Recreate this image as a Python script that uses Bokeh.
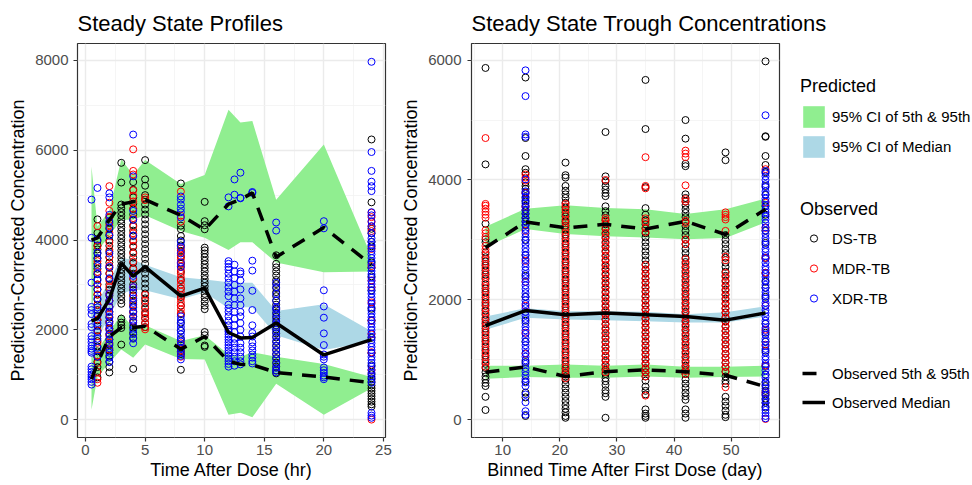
from bokeh.plotting import figure
from bokeh.layouts import row
from bokeh.models import Range1d, FixedTicker, Legend, LegendItem
from bokeh.embed import file_html
from bokeh.resources import INLINE

FONT = "Liberation Sans"
GREEN = "#90EE90"
LBLUE = "#ADD8E6"
C_DS, C_MDR, C_XDR = "#000000", "#FF0000", "#0000FF"
NAN = float("nan")

# ---------------- Left panel: Steady State Profiles ----------------
left_t = [0.5, 1, 2, 3, 4, 5, 8, 10, 12, 13, 14, 16, 20, 24]
left_p95_hi = [5640, 4300, 4650, 5800, 5450, 5780, 5250, 5450, 6900, 6620, 6650, 4900, 6130, 3630]
left_p95_lo = [2300, 3750, 4100, 4450, 4450, 4550, 4200, 4050, 3780, 3950, 3950, 3500, 3280, 3300]
left_p05_hi = [2400, 1550, 1950, 2350, 2050, 2100, 1750, 1880, 1450, 1400, 1500, 1400, 1240, 950]
left_p05_lo = [220, 950, 1270, 1560, 1380, 1670, 1350, 1340, 110, 150, 50, 800, 110, 700]
left_med_hi = [2500, 2600, 3100, 3600, 3560, 3450, 3170, 3120, 3060, 3050, 3050, 2420, 2570, 1970]
left_med_lo = [1300, 1800, 2300, 2800, 2900, 2880, 2680, 2830, 2480, 2500, 2500, 1880, 1550, 1740]
left_obs_med = [2200, 2250, 2680, 3480, 3200, 3400, 2750, 2930, 1940, 1820, 1830, 2150, 1440, 1780]
left_obs_p95 = [4000, 4050, 4450, 4800, 4850, 4900, 4550, 4230, 4800, 4900, 5050, 3620, 4280, 3450]
left_obs_p05 = [900, 1250, 1850, 2050, 2050, 2080, 1570, 1850, 1300, 1230, 1220, 1050, 950, 820]

# observed points, DS-TB
l_ds_1 = [4460, 4160, 3980, 3880, 3790, 3700, 3590, 3470, 3360, 3240, 3130, 3010, 2900, 2780, 2670,
          2550, 2440, 2320, 2210, 2090, 1980, 1860, 1750, 1630, 1520, 1400, 1290, 1170, 1060, 940]
l_ds_2 = [4500, 4380, 4250, 4110, 3990, 3870, 3740, 3620, 3500, 3380, 3250, 3130, 3010, 2890, 2760,
          2640, 2520, 2400, 2270, 2150, 2030, 1910, 1780, 1660, 1540, 1420, 1290, 1170, 1050]
l_ds_3 = [5720, 5280, 4790, 4710, 4620, 4540, 4450, 4370, 4280, 4200, 4110, 4030, 3940, 3860, 3770,
          3690, 3600, 3520, 3430, 3350, 3260, 3180, 3090, 3010, 2920, 2840, 2750, 2660, 2580, 2250,
          2160, 2100, 2040, 1670]
l_ds_4 = [5290, 5120, 4950, 4810, 4690, 4570, 4450, 4330, 4210, 4090, 3970, 3850, 3730, 3610, 3490,
          3370, 3250, 3130, 3010, 2890, 2770, 2650, 2530, 2410, 2290, 2170, 2050, 1930, 1820, 1130]
l_ds_5 = [5780, 5350, 5210, 5000, 4900, 4790, 4680, 4570, 4460, 4350, 4240, 4130, 4020, 3910, 3800,
          3690, 3580, 3470, 3360, 3250, 3140, 3030, 2920, 2810, 2700, 2590, 2480, 2370, 2260, 2150, 2060]
l_ds_8 = [5260, 4320, 4240, 4090, 3990, 3880, 3760, 3620, 3470, 3290, 3110, 2920, 2730, 2540, 2350,
          2160, 1980, 1790, 1600, 1520, 1460, 1110]
l_ds_10 = [4850, 4420, 4330, 4240, 3830, 3770, 3700, 3620, 3540, 3460, 3380, 3300, 3210, 3130, 3050,
           2970, 2890, 2800, 2720, 2630, 2540, 2460, 1950, 1880, 1650, 1620]
l_ds_16 = [3660, 3470, 3390, 3300, 3210, 3110, 3020, 2930, 2840, 2750, 2650, 2560, 2470, 2380, 2290,
           2190, 2100, 2010, 1920, 1830, 1730, 1640, 1550, 1460, 1370, 1270, 1180, 1090, 1030]
l_ds_24 = [6240, 4840, 4250, 4150, 3960, 3860, 3500, 3380, 3190, 2880, 2470, 2210, 1820, 1480, 1210,
           1010, 920, 840, 760, 700, 640, 580, 520, 460, 400, 340, 290]

# observed points, MDR-TB
l_mdr_1 = [4310, 3860, 3530, 3290, 3010, 2790, 2560, 2230, 1990, 1710, 1430, 1260, 1060, 900, 820]
l_mdr_2 = [5200, 4830, 4650, 4510, 4330, 4160, 3950, 3780, 3610, 3430, 3260, 3090, 2950, 2800, 2650,
           2500, 2340, 2180, 2020, 1860, 1710, 1560]
l_mdr_4 = [6020, 5540, 5460, 5110, 4990, 4860, 4700, 4490, 4300, 4150, 4000, 3870, 3700, 3520, 3350,
           3150, 2950, 2750, 2560, 2380, 2200]
l_mdr_5 = [4950, 4890, 2780, 2650, 2510, 2400, 2330, 2250, 2150, 2060, 2010]
l_mdr_8 = [5080, 4540, 4410, 3810, 3730, 3650, 3570, 3490, 3410, 3330, 3250, 3170, 3090, 3010, 2930,
           2850, 2770, 2690, 2610, 2530, 2450, 2370, 1700, 1510, 1400]
l_mdr_24 = [4610, 4510, 4400, 4300, 4200, 3800, 3420, 3100, 2950, 2610, 2200, 1900, 1500, 1100, 0]

# observed points, XDR-TB
l_xdr_05 = [4900, 4050, 3050, 2510, 2440, 2350, 2130, 2060, 1860, 1790, 1720, 1640, 1580, 1530, 1490,
            1180, 1120, 1060, 1000, 950, 900, 840, 780]
l_xdr_1 = [5160, 4010, 3720, 3600, 3420, 3250, 3100, 2900, 2700, 2500, 2310, 2150, 1950, 1800, 1600, 1400]
l_xdr_2 = [5040, 4950, 4560, 4420, 4280, 4100, 3700, 3400, 3150, 2800, 2650, 2510, 2400, 2290, 2190,
           2090, 1990, 1890, 1790, 1690, 1590, 1490, 1380, 1280]
l_xdr_4 = [6350, 5420, 4650, 4450, 4100, 3200, 2950, 2830, 2700, 2600, 2500, 2400, 2300, 2200, 2100,
           2000, 1900, 1800, 1700]
l_xdr_8 = [4970, 4900, 4790, 4700, 4620, 4500, 3960, 3850, 3700, 3500, 3400, 2300, 2220, 2140, 2060,
           1980, 1900, 1820, 1740, 1660, 1580, 1500, 1420, 1340]
l_xdr_12 = [4950, 4750, 3530, 3470, 3400, 3340, 3250, 3150, 3050, 2950, 2850, 2750, 2560, 2480, 2400,
            2300, 2200, 2100, 2000, 1960, 1900, 1840, 1780, 1720, 1660, 1600, 1540, 1480, 1420, 1360,
            1300, 1240, 1180]
l_xdr_125 = [5350, 5010, 3450, 3300, 3150, 3000, 2850, 2700, 2550, 2400, 2250, 2100, 1950, 1800, 1700,
             1600, 1500, 1400, 1300, 1200]
l_xdr_13 = [5500, 4940, 4930, 3300, 3250, 3100, 2900, 2700, 2550, 2400, 2300, 2150, 2000, 1850, 1700,
            1600, 1500, 1400, 1300, 1230]
l_xdr_14 = [5070, 5050, 3540, 3320, 2870, 2440, 2100, 1930, 1850, 1720, 1630, 1540, 1450, 1380, 1300, 1250]
l_xdr_16 = [4390, 4210, 3050, 2950, 2800, 2650, 2500, 2450, 2350, 2250, 2150, 2050, 1950, 1850, 1750,
            1650, 1550, 1450, 1350, 1250, 1150, 1100, 1050]
l_xdr_20 = [4420, 4260, 2880, 2520, 2270, 1920, 1660, 1450, 1400, 1340, 1160, 1100, 1040, 980, 940, 900]
l_xdr_24 = [7970, 5960, 5540, 5300, 5200, 5090, 4620, 4550, 4420, 4310, 4150, 4040, 3960, 3890, 3820,
            3750, 3680, 3600, 3530, 3460, 3380, 3310, 3240, 3160, 3090, 3020, 2940, 2870, 2800, 2720,
            2650, 2580, 2500, 2430, 2360, 2280, 2210, 2140, 2060, 1990, 1920, 1840, 1770, 1700, 1620,
            1550, 1480, 1400, 1330, 1260, 1180, 1110, 1040, 960, 890, 820, 150, 90, 40]

# ---------------- Right panel: Steady State Trough Concentrations ----------------
right_t = [7, 14, 21, 28, 35, 42, 49, 56]
right_p95_hi = [3220, 3520, 3580, 3530, 3510, 3430, 3510, 3690]
right_p95_lo = [2880, 3180, 3100, 3060, 3040, 3010, 3030, 3290]
right_p05_hi = [900, 900, 920, 900, 920, 880, 880, 900]
right_p05_lo = [680, 710, 700, 700, 720, 700, 710, 720]
right_med_hi = [1720, 1860, 1810, 1810, 1800, 1760, 1790, 1890]
right_med_lo = [1500, 1700, 1670, 1660, 1640, 1620, 1620, 1720]
right_obs_med = [1570, 1820, 1750, 1780, 1750, 1720, 1660, 1780]
right_obs_p95 = [2870, 3300, 3200, 3260, 3180, 3310, 3090, 3510]
right_obs_p05 = [790, 880, 720, 800, 830, 800, 740, 550]

r_ds_7 = [5870, 4260, 3270, 3010, 2960, 2790, 2710, 2640, 2570, 2490, 2420, 2350, 2260, 2190, 2120,
          2040, 1960, 1900, 1820, 1750, 1670, 1600, 1520, 1450, 1370, 1300, 1220, 1150, 1070, 1000,
          930, 860, 790, 720, 670, 610, 560, 380, 160]
r_ds_14 = [5710, 4700, 4400, 4180, 4120, 3960, 3900, 3850, 3790, 3700, 3640, 3570, 3500, 3440, 3370,
           3310, 3250, 3000, 2750, 2400, 2050, 1650, 1300, 960, 640, 450, 370, 60]
r_ds_21 = [4290, 4080, 4040, 3900, 3820, 3760, 3700, 3620, 3540, 3460, 3390, 3310, 3240, 3170, 3090,
           3020, 2940, 2870, 2790, 2720, 2640, 2570, 2490, 2420, 2340, 2270, 2190, 2120, 2040, 1970,
           1890, 1820, 1740, 1670, 1590, 1520, 1440, 1370, 1290, 1220, 1140, 1070, 990, 920, 850,
           780, 720, 660, 590, 520, 450, 380, 310, 240, 180, 120, 60, 30]
r_ds_28 = [4800, 4060, 3980, 3900, 3840, 3780, 3730, 3560, 3480, 3410, 3330, 3260, 3180, 3100, 3030,
           2950, 2880, 2800, 2730, 2650, 2570, 2500, 2420, 2350, 2270, 2200, 2120, 2040, 1970, 1890,
           1820, 1740, 1670, 1590, 1510, 1440, 1360, 1290, 1210, 1140, 1060, 980, 910, 830, 760,
           690, 640, 580, 490, 440, 380, 30]
r_ds_35 = [5670, 4850, 3880, 3530, 3420, 3330, 3260, 3190, 3110, 3040, 2960, 2890, 2810, 2740, 2660,
           2590, 2510, 2440, 2360, 2290, 2210, 2140, 2060, 1990, 1910, 1840, 1760, 1690, 1610, 1540,
           1460, 1390, 1310, 1240, 1160, 1090, 1010, 940, 860, 790, 720, 650, 550, 480, 420, 170,
           100, 60, 30]
r_ds_42 = [5000, 4690, 4270, 4230, 3760, 3700, 3640, 3580, 3510, 3450, 3380, 3300, 3230, 3150, 3080,
           3000, 2930, 2850, 2780, 2700, 2630, 2550, 2480, 2400, 2330, 2250, 2180, 2100, 2030, 1950,
           1880, 1800, 1730, 1650, 1580, 1500, 1430, 1350, 1280, 1200, 1130, 1050, 980, 900, 830,
           760, 670, 600, 530, 450, 390, 330, 170, 100, 30]
r_ds_49 = [4460, 4330, 3080, 3000, 2930, 2850, 2780, 2700, 2620, 2550, 2470, 2400, 2320, 2240, 2170,
           2090, 2020, 1940, 1860, 1790, 1710, 1640, 1560, 1480, 1410, 1330, 1260, 1180, 1100, 1030,
           950, 880, 800, 720, 650, 600, 380, 300, 230, 150, 80, 40]
r_ds_56 = [5980, 4730, 4720, 4400, 4250, 4130, 3900, 3750, 3560, 3420, 3150, 2950, 2700, 2450, 2300,
           2200, 2050, 1600, 1450, 1300, 1150, 900, 750, 620, 560, 480, 420, 350, 280, 200]

r_mdr_7 = [4700, 3600, 3570, 3520, 3470, 3420, 3370, 3160, 3110, 3050, 2900, 2840, 2760, 2680, 2600,
           2530, 2450, 2380, 2300, 2230, 2150, 2080, 2000, 1930, 1850, 1780, 1700, 1630, 1560, 1480,
           1410, 1330, 1260, 1180, 1110, 1040, 960, 880]
r_mdr_14 = [4090, 4040, 3990, 3780, 3550, 3150, 2650, 2300, 1900, 1450, 1100]
r_mdr_21 = [3600, 3560, 3500, 3420, 3340, 3280, 3210, 3130, 3060, 2980, 2910, 2830, 2760, 2680, 2610,
            2530, 2460, 2380, 2310, 2230, 2160, 2080, 2010, 1930, 1860, 1780, 1710, 1630, 1560, 1480,
            1410, 1330, 1260, 1180, 1110, 1030, 960, 880, 810, 750, 690]
r_mdr_28 = [4000, 3360, 3320, 3280, 3200, 3120, 3050, 2970, 2900, 2820, 2740, 2670, 2590, 2520, 2440,
            2360, 2290, 2210, 2140, 2060, 1980, 1910, 1830, 1760, 1680, 1600, 1530, 1450, 1380, 1300,
            1220, 1150, 1070, 1000, 920, 850, 790]
r_mdr_35 = [4380, 3900, 3860, 3360, 3300, 3200, 3130, 2580, 2500, 2430, 2350, 2280, 2200, 2130, 2050,
            1980, 1900, 1830, 1750, 1680, 1600, 1530, 1450, 1380, 1300, 1230, 1150, 1080, 1000, 930,
            850, 780, 720, 400]
r_mdr_42 = [4490, 4440, 4380, 3910, 3680, 3640, 3320, 3280, 3010, 2930, 2680, 2600, 2530, 2450, 2380,
            2300, 2230, 2150, 2080, 2000, 1930, 1850, 1780, 1700, 1630, 1550, 1480, 1400, 1330, 1250,
            1180, 1100, 1030, 950, 880, 810, 760]
r_mdr_49 = [3460, 3420, 3380, 3340, 3150, 2720, 2660, 2450, 2380, 2300, 2230, 2150, 2080, 2000, 1930,
            1850, 1780, 1700, 1630, 1550, 1480, 1400, 1330, 1250, 1180, 1100, 1030, 950, 880, 800, 540]
r_mdr_56 = [4180, 3620, 3200, 2700, 2450, 1900, 1500, 1250, 900, 450, 10]

r_xdr_14 = [5830, 5400, 4760, 4720, 4010, 3810, 3770, 3720, 3660, 3610, 3550, 3490, 3430, 3360, 3300,
            3240, 3180, 3110, 3050, 2990, 2930, 2860, 2800, 2740, 2680, 2610, 2550, 2490, 2430, 2360,
            2300, 2240, 2180, 2110, 2050, 1990, 1930, 1860, 1800, 1740, 1680, 1610, 1550, 1490, 1430,
            1360, 1300, 1240, 1180, 1110, 1050, 990, 930, 860, 800, 740, 680, 620, 560, 420, 290, 140, 80]
r_xdr_56 = [5080, 4150, 4110, 4060, 4000, 3930, 3880, 3810, 3760, 3690, 3640, 3580, 3510, 3460, 3390,
            3340, 3280, 3210, 3160, 3100, 3030, 2980, 2920, 2850, 2800, 2730, 2680, 2620, 2550, 2500,
            2430, 2380, 2320, 2250, 2200, 2130, 2080, 2020, 1950, 1900, 1830, 1780, 1720, 1650, 1600,
            1530, 1480, 1420, 1350, 1300, 1230, 1180, 1120, 1050, 1000, 930, 880, 820, 750, 700, 630,
            580, 520, 450, 400, 330, 280, 220, 160, 110, 60, 20]

left_ds = [(1, l_ds_1), (2, l_ds_2), (3, l_ds_3), (4, l_ds_4), (5, l_ds_5), (8, l_ds_8),
           (10, l_ds_10), (16, l_ds_16), (24, l_ds_24)]
left_mdr = [(1, l_mdr_1), (2, l_mdr_2), (4, l_mdr_4), (5, l_mdr_5), (8, l_mdr_8), (24, l_mdr_24)]
left_xdr = [(0.5, l_xdr_05), (1, l_xdr_1), (2, l_xdr_2), (4, l_xdr_4), (8, l_xdr_8), (12, l_xdr_12),
            (12.5, l_xdr_125), (13, l_xdr_13), (14, l_xdr_14), (16, l_xdr_16), (20, l_xdr_20),
            (24, l_xdr_24)]
right_ds = [(7, r_ds_7), (14, r_ds_14), (21, r_ds_21), (28, r_ds_28), (35, r_ds_35), (42, r_ds_42),
            (49, r_ds_49), (56, r_ds_56)]
right_mdr = [(7, r_mdr_7), (14, r_mdr_14), (21, r_mdr_21), (28, r_mdr_28), (35, r_mdr_35),
             (42, r_mdr_42), (49, r_mdr_49), (56, r_mdr_56)]
right_xdr = [(14, r_xdr_14), (56, r_xdr_56)]


def flatten(pairs):
    xs, ys = [], []
    for t, vals in pairs:
        xs += [t] * len(vals)
        ys += list(vals)
    return xs, ys


def style(p, xticks, xminor, yticks, yminor, xlabel, ylab_standoff):
    p.background_fill_color = "white"
    p.border_fill_color = "white"
    p.outline_line_color = "#333333"
    p.outline_line_width = 1.2
    p.title.text_font = FONT
    p.title.text_font_size = "22px"
    p.title.text_font_style = "normal"
    p.title.text_color = "black"
    p.title.align = "left"
    p.title.offset = 0
    p.title.standoff = 16
    p.xaxis.ticker = FixedTicker(ticks=xticks, minor_ticks=xminor)
    p.yaxis.ticker = FixedTicker(ticks=yticks, minor_ticks=yminor)
    p.xaxis.axis_label = xlabel
    p.yaxis.axis_label = "Prediction-Corrected Concentration"
    for ax in list(p.xaxis) + list(p.yaxis):
        ax.axis_line_color = None
        ax.major_tick_line_color = "#333333"
        ax.major_tick_line_width = 1.2
        ax.major_tick_in = 0
        ax.major_tick_out = 4
        ax.minor_tick_line_color = None
        ax.major_label_text_font = FONT
        ax.major_label_text_font_size = "15px"
        ax.major_label_text_color = "#4D4D4D"
        ax.axis_label_text_font = FONT
        ax.axis_label_text_font_size = "18px"
        ax.axis_label_text_font_style = "normal"
        ax.axis_label_text_color = "black"
    for ax in p.xaxis:
        ax.major_label_standoff = 3
        ax.axis_label_standoff = 2
    for ax in p.yaxis:
        ax.major_label_standoff = ylab_standoff
        ax.axis_label_standoff = 4
    for g in list(p.xgrid) + list(p.ygrid):
        g.grid_line_color = "#EBEBEB"
        g.grid_line_width = 1.4
        g.minor_grid_line_color = "#F2F2F2"
        g.minor_grid_line_width = 0.8


def draw_panel(p, t, p95_lo, p95_hi, p05_lo, p05_hi, med_lo, med_hi, ds, mdr, xdr, obs_med, obs_p95, obs_p05):
    p.varea(x=t, y1=p95_lo, y2=p95_hi, fill_color=GREEN)
    p.varea(x=t, y1=p05_lo, y2=p05_hi, fill_color=GREEN)
    p.varea(x=t, y1=med_lo, y2=med_hi, fill_color=LBLUE)
    for pairs, col in ((ds, C_DS), (mdr, C_MDR), (xdr, C_XDR)):
        xs, ys = flatten(pairs)
        p.scatter(xs, ys, marker="circle", size=7, fill_color=None, line_color=col, line_width=1)
    p.line(t, obs_p95, line_color="black", line_width=3.5, line_dash="14 10")
    p.line(t, obs_p05, line_color="black", line_width=3.5, line_dash="14 10")
    p.line(t, obs_med, line_color="black", line_width=3.5)


H = 485
p1 = figure(width=398, height=H, output_backend="svg", toolbar_location=None,
            title="Steady State Profiles",
            x_range=Range1d(-0.675, 25.175), y_range=Range1d(-399, 8378),
            min_border_left=77, min_border_right=13, min_border_top=43, min_border_bottom=48)
style(p1, [0, 5, 10, 15, 20, 25], [2.5, 7.5, 12.5, 17.5, 22.5],
      [0, 2000, 4000, 6000, 8000], [1000, 3000, 5000, 7000], "Time After Dose (hr)", 5)
draw_panel(p1, left_t, left_p95_lo, left_p95_hi, left_p05_lo, left_p05_hi, left_med_lo, left_med_hi,
           left_ds, left_mdr, left_xdr, left_obs_med, left_obs_p95, left_obs_p05)

# right panel canvas reaches the page edge so that its long title is not cut;
# the legend canvas (transparent) is laid over its right border area
p2 = figure(width=574, height=H, output_backend="svg", toolbar_location=None,
            title="Steady State Trough Concentrations",
            x_range=Range1d(4.55, 58.45), y_range=Range1d(-299, 6278),
            min_border_left=73, min_border_right=193, min_border_top=43, min_border_bottom=48)
style(p2, [10, 20, 30, 40, 50], [5, 15, 25, 35, 45, 55],
      [0, 2000, 4000, 6000], [1000, 3000, 5000], "Binned Time After First Dose (day)", 6)
draw_panel(p2, right_t, right_p95_lo, right_p95_hi, right_p05_lo, right_p05_hi, right_med_lo, right_med_hi,
           right_ds, right_mdr, right_xdr, right_obs_med, right_obs_p95, right_obs_p05)

# ---------------- Legend panel ----------------
pl = figure(width=180, height=H, output_backend="svg", toolbar_location=None,
            x_range=Range1d(0, 1), y_range=Range1d(0, 1),
            x_axis_location=None, y_axis_location=None,
            min_border_left=0, min_border_right=0, min_border_top=43, min_border_bottom=48,
            margin=(0, 0, 0, -180))
pl.outline_line_color = None
pl.background_fill_alpha = 0
pl.border_fill_alpha = 0
for g in list(pl.xgrid) + list(pl.ygrid):
    g.visible = False

r_green = pl.varea(x=[NAN], y1=[NAN], y2=[NAN], fill_color=GREEN)
r_blue = pl.varea(x=[NAN], y1=[NAN], y2=[NAN], fill_color=LBLUE)
r_ds = pl.scatter(x=[NAN], y=[NAN], marker="circle", size=7, fill_color=None, line_color=C_DS, line_width=1)
r_mdr = pl.scatter(x=[NAN], y=[NAN], marker="circle", size=7, fill_color=None, line_color=C_MDR, line_width=1)
r_xdr = pl.scatter(x=[NAN], y=[NAN], marker="circle", size=7, fill_color=None, line_color=C_XDR, line_width=1)
r_dash = pl.line(x=[NAN], y=[NAN], line_color="black", line_width=3.5, line_dash="14 10")
r_solid = pl.line(x=[NAN], y=[NAN], line_color="black", line_width=3.5)


def make_legend(items, title, loc, gw, gh, spacing, standoff, title_standoff):
    leg = Legend(items=items, location=loc, orientation="vertical",
                 glyph_width=gw, glyph_height=gh, label_height=gh, label_width=20,
                 spacing=spacing, padding=0, margin=0, label_standoff=standoff,
                 border_line_color=None, background_fill_alpha=0,
                 label_text_font=FONT, label_text_font_size="15px", label_text_color="black")
    if title:
        leg.title = title
        leg.title_text_font = FONT
        leg.title_text_font_size = "18px"
        leg.title_text_font_style = "normal"
        leg.title_text_color = "black"
        leg.title_standoff = title_standoff
    return leg


leg1 = make_legend([LegendItem(label="95% CI of 5th & 95th", renderers=[r_green]),
                    LegendItem(label="95% CI of Median", renderers=[r_blue])],
                   "Predicted", (8, 277), 27, 27, 3, 5, 6)
leg2 = make_legend([LegendItem(label="DS-TB", renderers=[r_ds]),
                    LegendItem(label="MDR-TB", renderers=[r_mdr]),
                    LegendItem(label="XDR-TB", renderers=[r_xdr])],
                   "Observed", (8, 130), 27, 18, 12, 5, 9)
leg3 = make_legend([LegendItem(label="Observed 5th & 95th", renderers=[r_dash]),
                    LegendItem(label="Observed Median", renderers=[r_solid])],
                   None, (10, 26), 23, 18, 11, 7, 0)
for lg in (leg1, leg2, leg3):
    pl.add_layout(lg, "center")

layout = row(p1, p2, pl)
open("out.html", "w").write(file_html(layout, INLINE))
